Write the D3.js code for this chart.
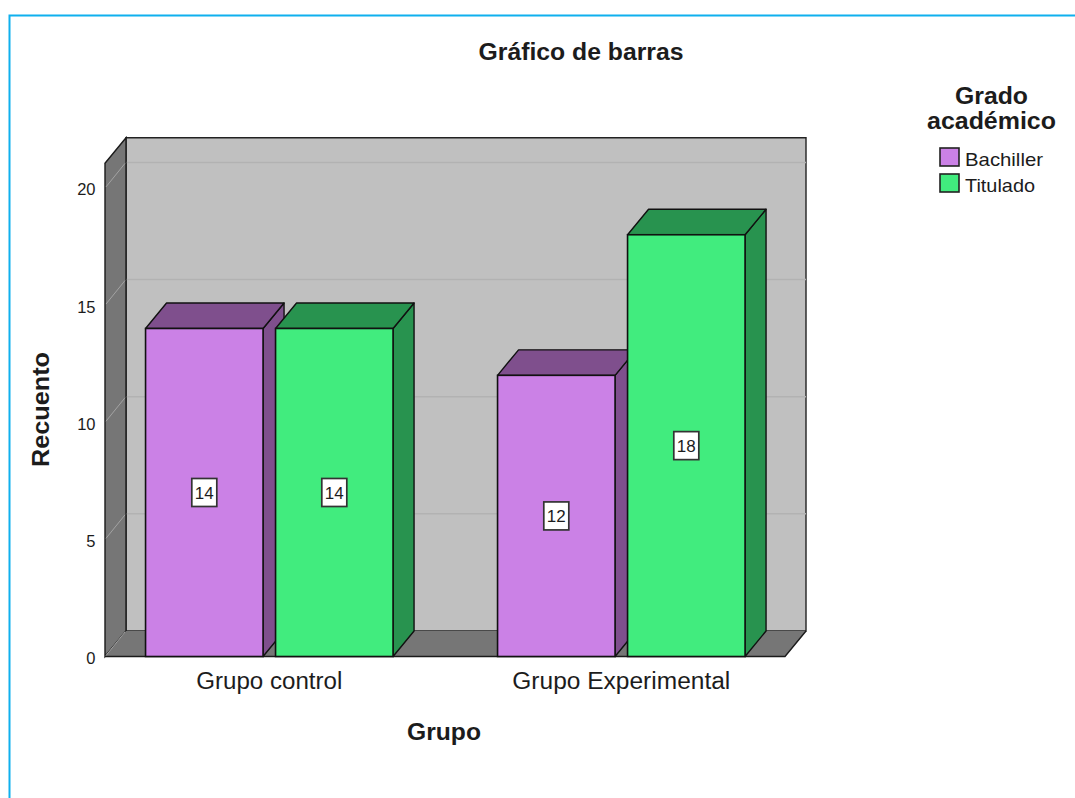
<!DOCTYPE html>
<html>
<head>
<meta charset="utf-8">
<script src="https://cdn.jsdelivr.net/npm/d3@7"></script>
<style>
html, body { margin: 0; padding: 0; background: #fff; }
svg { display: block; }
text { font-family: "Liberation Sans", Arial, sans-serif; fill: #1c1c1c; }
</style>
</head>
<body>
<svg width="1075" height="798"></svg>
<script>
var groups = ["Grupo control", "Grupo Experimental"];
var groupLabelWidths = [146, 218];
var series = ["Bachiller", "Titulado"];
var seriesLabelWidths = [78, 70];
var bachiller = [14, 12];
var titulado = [14, 18];
var yTicks = [0, 5, 10, 15, 20];
var frontColors = ["#cb81e6", "#41ec7e"];
var sideColors = ["#7f4f8d", "#28934f"];

var svg = d3.select("svg");
var depthX = 21, depthY = -25.5;
var plotLeft = 105, plotRight = 785, plotBottom = 656.5;

var y = d3.scaleLinear().domain([0, 20]).range([plotBottom, 187.9]);
var yMax = 21.05;
var x = d3.scaleBand().domain(groups).range([93.3, 797.3]);
var inner = d3.scaleBand().domain(series).range([-123.75, 123.75]).paddingInner(12.5 / 130);

var rows = [];
groups.forEach(function(g, i) {
  rows.push({group: g, s: 0, value: bachiller[i]});
  rows.push({group: g, s: 1, value: titulado[i]});
});

function poly(points) {
  return "M" + points.map(function(p) { return p.join(","); }).join("L") + "Z";
}

// stretched text, the reference is scaled wider than the font
function label(sel, width) {
  return sel.attr("textLength", width).attr("lengthAdjust", "spacingAndGlyphs");
}

// frame of the page
svg.append("path")
  .attr("d", "M1075,15.5H9.5V798")
  .attr("fill", "none")
  .attr("stroke", "#0fb0ee")
  .attr("stroke-width", 2);

// walls
var topY = y(yMax);
svg.append("path")
  .attr("d", poly([[plotLeft + depthX, topY + depthY], [plotRight + depthX, topY + depthY],
    [plotRight + depthX, plotBottom + depthY], [plotLeft + depthX, plotBottom + depthY]]))
  .attr("fill", "#c0c0c0").attr("stroke", "#222").attr("stroke-width", 1.4);

yTicks.slice(1).forEach(function(t) {
  svg.append("line")
    .attr("x1", plotLeft + depthX).attr("x2", plotRight + depthX)
    .attr("y1", y(t) + depthY).attr("y2", y(t) + depthY)
    .attr("stroke", "#b2b2b2").attr("stroke-width", 1.5);
});

svg.append("path")
  .attr("d", poly([[plotLeft, topY], [plotLeft + depthX, topY + depthY],
    [plotLeft + depthX, plotBottom + depthY], [plotLeft, plotBottom]]))
  .attr("fill", "#767676").attr("stroke", "#1a1a1a").attr("stroke-width", 1.4);

svg.append("path")
  .attr("d", poly([[plotLeft, plotBottom], [plotLeft + depthX, plotBottom + depthY],
    [plotRight + depthX, plotBottom + depthY], [plotRight, plotBottom]]))
  .attr("fill", "#767676").attr("stroke", "none");
svg.append("path")
  .attr("d", "M" + plotLeft + "," + plotBottom + "H" + plotRight + "L" + (plotRight + depthX) + "," + (plotBottom + depthY))
  .attr("fill", "none").attr("stroke", "#1a1a1a").attr("stroke-width", 1.4);

// wall lines for each tick
yTicks.forEach(function(t) {
  svg.append("line")
    .attr("x1", plotLeft + 1).attr("x2", plotLeft + depthX - 1)
    .attr("y1", y(t) - 1).attr("y2", y(t) + depthY + 1)
    .attr("stroke", "#a3a3a3").attr("stroke-width", 1);
});

// bars
var bar = svg.selectAll("g.bar").data(rows).enter().append("g").attr("class", "bar");

function barLeft(d) { return x(d.group) + x.bandwidth() / 2 + inner(series[d.s]); }

bar.append("path")
  .attr("d", function(d) {
    var x0 = barLeft(d), x1 = x0 + inner.bandwidth(), yt = y(d.value);
    return poly([[x1, yt], [x1 + depthX, yt + depthY], [x1 + depthX, plotBottom + depthY], [x1, plotBottom]]);
  })
  .attr("fill", function(d) { return sideColors[d.s]; })
  .attr("stroke", "#111").attr("stroke-width", 1.4).attr("stroke-linejoin", "round");

bar.append("path")
  .attr("d", function(d) {
    var x0 = barLeft(d), x1 = x0 + inner.bandwidth(), yt = y(d.value);
    return poly([[x0, yt], [x0 + depthX, yt + depthY], [x1 + depthX, yt + depthY], [x1, yt]]);
  })
  .attr("fill", function(d) { return sideColors[d.s]; })
  .attr("stroke", "#111").attr("stroke-width", 1.4).attr("stroke-linejoin", "round");

bar.append("rect")
  .attr("x", barLeft)
  .attr("y", function(d) { return y(d.value); })
  .attr("width", inner.bandwidth())
  .attr("height", function(d) { return plotBottom - y(d.value); })
  .attr("fill", function(d) { return frontColors[d.s]; })
  .attr("stroke", "#111").attr("stroke-width", 1.6);

// value labels
bar.append("rect")
  .attr("x", function(d) { return barLeft(d) + inner.bandwidth() / 2 - 12.5; })
  .attr("y", function(d) { return y(d.value / 2) - 14; })
  .attr("width", 25).attr("height", 28)
  .attr("fill", "#fff").attr("stroke", "#333").attr("stroke-width", 1.7);

bar.append("text")
  .attr("x", function(d) { return barLeft(d) + inner.bandwidth() / 2; })
  .attr("y", function(d) { return y(d.value / 2) + 6.5; })
  .attr("text-anchor", "middle")
  .attr("font-size", 17)
  .text(function(d) { return d.value; });

// axes
svg.selectAll("text.ytick").data(yTicks).enter().append("text")
  .attr("class", "ytick")
  .attr("x", 95.5)
  .attr("y", function(d) { return y(d) + 7.5; })
  .attr("text-anchor", "end")
  .attr("font-size", 16.5)
  .text(function(d) { return d; });

svg.selectAll("text.xtick").data(groups).enter().append("text")
  .attr("class", "xtick")
  .attr("x", function(d) { return x(d) + x.bandwidth() / 2; })
  .attr("y", 689)
  .attr("text-anchor", "middle")
  .attr("font-size", 23)
  .attr("textLength", function(d, i) { return groupLabelWidths[i]; })
  .attr("lengthAdjust", "spacingAndGlyphs")
  .text(function(d) { return d; });

label(svg.append("text")
  .attr("x", 444).attr("y", 740)
  .attr("text-anchor", "middle")
  .attr("font-size", 23).attr("font-weight", "bold")
  .text("Grupo"), 74);

label(svg.append("text")
  .attr("transform", "translate(49,409.5) rotate(-90)")
  .attr("text-anchor", "middle")
  .attr("font-size", 23).attr("font-weight", "bold")
  .text("Recuento"), 115);

label(svg.append("text")
  .attr("x", 581).attr("y", 60)
  .attr("text-anchor", "middle")
  .attr("font-size", 23).attr("font-weight", "bold")
  .text("Gráfico de barras"), 205);

// legend
label(svg.append("text")
  .attr("x", 991.5).attr("y", 104)
  .attr("text-anchor", "middle")
  .attr("font-size", 24).attr("font-weight", "bold")
  .text("Grado"), 73);
label(svg.append("text")
  .attr("x", 991.5).attr("y", 129)
  .attr("text-anchor", "middle")
  .attr("font-size", 24).attr("font-weight", "bold")
  .text("académico"), 129);

var legend = svg.selectAll("g.legend").data(series).enter().append("g")
  .attr("class", "legend")
  .attr("transform", function(d, i) { return "translate(0," + (i * 26) + ")"; });

legend.append("rect")
  .attr("x", 940).attr("y", 148)
  .attr("width", 19).attr("height", 18)
  .attr("fill", function(d, i) { return frontColors[i]; })
  .attr("stroke", "#222").attr("stroke-width", 1.6);

legend.append("text")
  .attr("x", 965).attr("y", 166)
  .attr("font-size", 18.5)
  .attr("textLength", function(d, i) { return seriesLabelWidths[i]; })
  .attr("lengthAdjust", "spacingAndGlyphs")
  .text(function(d) { return d; });
</script>
</body>
</html>
